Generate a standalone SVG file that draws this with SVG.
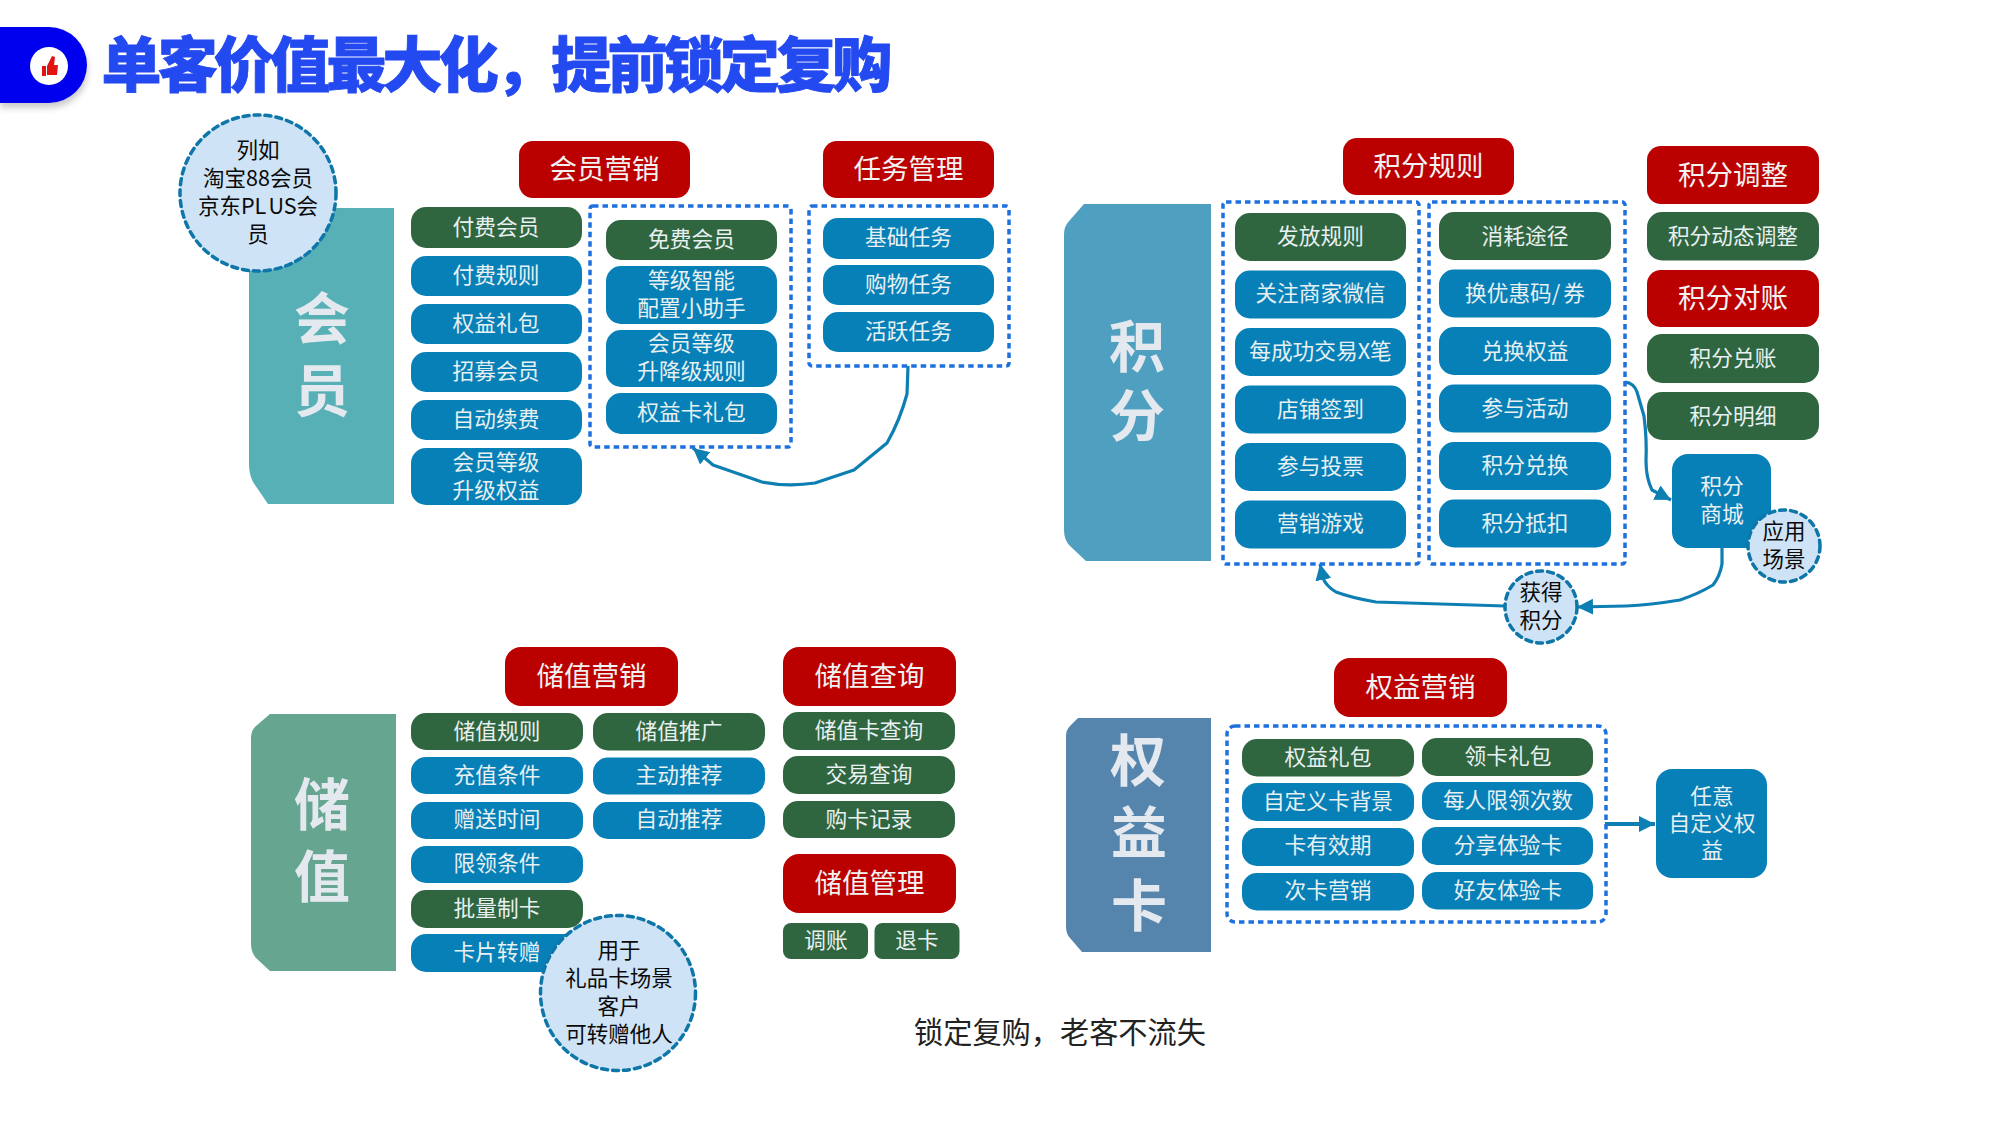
<svg xmlns="http://www.w3.org/2000/svg" width="2000" height="1125" viewBox="0 0 2000 1125">
<style>
text{font-family:"Noto Sans CJK SC","Noto Sans",sans-serif;text-anchor:middle}
.g{fill:#30663f}.b{fill:#0780b8}.r{fill:#bb0000}
.t{font-size:21.700px;fill:#e8f0f2}
.h{font-size:27.500px;fill:#f2f2f2}
.k{font-size:21.500px;fill:#0a0a0a}
.v{font-size:56px;font-weight:700;fill:#e3e9ee}
.c{fill:#cfe3f6;stroke:#0e76a8;stroke-width:3.500;stroke-dasharray:6 5;stroke-linecap:round}
.d{fill:none;stroke:#1c70e0;stroke-width:3.500;stroke-dasharray:5.500 4}
.a{fill:none;stroke:#0e7fb2;stroke-width:3.200;stroke-linejoin:round}
</style>
<defs>
<marker id="arr" markerUnits="userSpaceOnUse" markerWidth="20" markerHeight="20" refX="16" refY="8" orient="auto"><path d="M0 0L16 8L0 16z" fill="#0e7fb2"/></marker>
<filter id="sh" x="-20%" y="-20%" width="140%" height="150%"><feGaussianBlur stdDeviation="3"/></filter>
</defs>
<g id="title-tab">
<path d="M0 32H50a38 38 0 0 1 0 76H0z" fill="#000" opacity=".2" filter="url(#sh)"/>
<path d="M0 27H49a38 38 0 0 1 0 76H0z" fill="#0000ee"/>
<circle cx="49" cy="66" r="19" fill="#fff"/>
<path d="M42 66h4v10h-4zM47 66l5-10 3 1-1 8h4l-1 10H47z" fill="#e11414"/>
</g>
<text id="title" x="495" y="87" style="font-size:60px;font-weight:900;letter-spacing:-3.800px;fill:#2349f0;stroke:#2349f0;stroke-width:.8">单客价值最大化，提前锁定复购</text>
<g id="connectors">
<path class="a" marker-end="url(#arr)" d="M908 366L907 394Q900 420 887 443L854 470L815 483Q788 487 762 482L713 465L693 448"/>
<path class="a" marker-end="url(#arr)" d="M1625 382Q1634 383 1637 392L1644 416Q1647 440 1646 461Q1646 478 1652 490L1671 500"/>
<path class="a" marker-end="url(#arr)" d="M1722 548V564Q1720 576 1713 585Q1698 594 1680 600Q1650 605 1626 606L1577 607"/>
<path class="a" marker-end="url(#arr)" d="M1505 606L1376 602Q1352 598 1336 592Q1326 586 1323 578L1320 564"/>
<path class="a" style="stroke-width:4" marker-end="url(#arr)" d="M1605 824H1655"/>
</g>
<g id="n-huiyuan"><path d="M249 208H394V504H268L253 482Q249 474 249 464z" fill="#57b0b5"/><text class="v" x="322" y="339">会</text><text class="v" x="322" y="411">员</text></g>
<g id="n-liru"><circle class="c" cx="258" cy="193" r="78"/><text class="k" x="258" y="158">列如</text><text class="k" x="258" y="186">淘宝88会员</text><text class="k" x="258" y="214">京东PL<tspan dx="3">US</tspan>会</text><text class="k" x="258" y="242">员</text></g>
<g id="n-hyyx"><rect class="r" x="519" y="141" width="171" height="57" rx="14"/><text class="h" x="604.500" y="179">会员营销</text></g>
<g id="n-rwgl"><rect class="r" x="823" y="141" width="171" height="57" rx="14"/><text class="h" x="908.500" y="179">任务管理</text></g>
<g id="n-1"><rect class="g" x="411" y="207" width="171" height="41" rx="15"/><text class="t" x="496" y="235">付费会员</text></g>
<g id="n-2"><rect class="b" x="411" y="256" width="171" height="40" rx="15"/><text class="t" x="496" y="283">付费规则</text></g>
<g id="n-3"><rect class="b" x="411" y="304" width="171" height="40" rx="15"/><text class="t" x="496" y="331">权益礼包</text></g>
<g id="n-4"><rect class="b" x="411" y="352" width="171" height="40" rx="15"/><text class="t" x="496" y="379">招募会员</text></g>
<g id="n-5"><rect class="b" x="411" y="400" width="171" height="40" rx="15"/><text class="t" x="496" y="427">自动续费</text></g>
<g id="n-6"><rect class="b" x="411" y="448" width="171" height="57" rx="15"/><text class="t" x="496" y="470">会员等级</text><text class="t" x="496" y="498">升级权益</text></g>
<rect id="box-1" class="d" x="590" y="206" width="201" height="241" rx="3"/>
<g id="n-7"><rect class="g" x="606" y="220" width="171" height="40" rx="15"/><text class="t" x="691.500" y="247">免费会员</text></g>
<g id="n-8"><rect class="b" x="606" y="266" width="171" height="58" rx="15"/><text class="t" x="691.500" y="287.500">等级智能</text><text class="t" x="691.500" y="316">配置小助手</text></g>
<g id="n-9"><rect class="b" x="606" y="330" width="171" height="57" rx="15"/><text class="t" x="691.500" y="351">会员等级</text><text class="t" x="691.500" y="379">升降级规则</text></g>
<g id="n-10"><rect class="b" x="606" y="393" width="171" height="41" rx="15"/><text class="t" x="691.500" y="420">权益卡礼包</text></g>
<rect id="box-2" class="d" x="809" y="206" width="200" height="160" rx="3"/>
<g id="n-11"><rect class="b" x="823" y="218" width="171" height="41" rx="15"/><text class="t" x="908.500" y="245">基础任务</text></g>
<g id="n-12"><rect class="b" x="823" y="265" width="171" height="40" rx="15"/><text class="t" x="908.500" y="291.500">购物任务</text></g>
<g id="n-13"><rect class="b" x="823" y="312" width="171" height="40" rx="15"/><text class="t" x="908.500" y="338.500">活跃任务</text></g>

<g id="n-jifen"><path d="M1211 204V561H1086L1070 546Q1064 540 1064 530V234Q1064 226 1070 220L1084 204z" fill="#4f9fc1"/><text class="v" x="1137" y="367">积</text><text class="v" x="1137" y="436">分</text></g>
<g id="n-jfgz"><rect class="r" x="1343" y="138" width="171" height="57" rx="14"/><text class="h" x="1428.500" y="176">积分规则</text></g>
<rect id="box-3" class="d" x="1223" y="202" width="196" height="362" rx="3"/>
<rect id="box-4" class="d" x="1429" y="202" width="196" height="362" rx="3"/>
<g id="n-20"><rect class="g" x="1235" y="213" width="171" height="48" rx="15"/><text class="t" x="1320.500" y="244">发放规则</text></g>
<g id="n-21"><rect class="b" x="1235" y="270.500" width="171" height="48" rx="15"/><text class="t" x="1320.500" y="301">关注商家微信</text></g>
<g id="n-22"><rect class="b" x="1235" y="328" width="171" height="48" rx="15"/><text class="t" x="1320.500" y="359">每成功交易X笔</text></g>
<g id="n-23"><rect class="b" x="1235" y="385.500" width="171" height="48" rx="15"/><text class="t" x="1320.500" y="417">店铺签到</text></g>
<g id="n-24"><rect class="b" x="1235" y="443" width="171" height="48" rx="15"/><text class="t" x="1320.500" y="474">参与投票</text></g>
<g id="n-25"><rect class="b" x="1235" y="500.500" width="171" height="48" rx="15"/><text class="t" x="1320.500" y="531">营销游戏</text></g>
<g id="n-30"><rect class="g" x="1439" y="212" width="172" height="48" rx="15"/><text class="t" x="1525" y="244">消耗途径</text></g>
<g id="n-31"><rect class="b" x="1439" y="269.500" width="172" height="48" rx="15"/><text class="t" x="1525" y="301">换优惠码/<tspan dx="3">券</tspan></text></g>
<g id="n-32"><rect class="b" x="1439" y="327" width="172" height="48" rx="15"/><text class="t" x="1525" y="358.500">兑换权益</text></g>
<g id="n-33"><rect class="b" x="1439" y="384.500" width="172" height="48" rx="15"/><text class="t" x="1525" y="416">参与活动</text></g>
<g id="n-34"><rect class="b" x="1439" y="442" width="172" height="48" rx="15"/><text class="t" x="1525" y="473">积分兑换</text></g>
<g id="n-35"><rect class="b" x="1439" y="499.500" width="172" height="48" rx="15"/><text class="t" x="1525" y="531">积分抵扣</text></g>
<g id="n-40"><rect class="r" x="1647" y="146" width="172" height="58" rx="14"/><text class="h" x="1733" y="185">积分调整</text></g>
<g id="n-41"><rect class="g" x="1647" y="212" width="172" height="48.500" rx="15"/><text class="t" x="1733" y="244">积分动态调整</text></g>
<g id="n-42"><rect class="r" x="1647" y="270" width="172" height="57" rx="14"/><text class="h" x="1733" y="308">积分对账</text></g>
<g id="n-43"><rect class="g" x="1647" y="334" width="172" height="49" rx="15"/><text class="t" x="1733" y="366">积分兑账</text></g>
<g id="n-44"><rect class="g" x="1647" y="392" width="172" height="48" rx="15"/><text class="t" x="1733" y="424">积分明细</text></g>
<g id="n-mall"><rect class="b" x="1672" y="454" width="99" height="94" rx="16"/><text class="t" x="1722" y="493.500">积分</text><text class="t" x="1722" y="521.500">商城</text></g>
<g id="n-apply"><circle class="c" cx="1784" cy="546" r="36"/><text class="k" x="1784" y="539">应用</text><text class="k" x="1784" y="567">场景</text></g>
<g id="n-earn"><circle class="c" cx="1541" cy="607" r="36"/><text class="k" x="1541" y="599.500">获得</text><text class="k" x="1541" y="628">积分</text></g>

<g id="n-chuzhi"><path d="M251 738Q251 730 256 726L270 714H396V971H270L256 958Q251 952 251 944z" fill="#66a58f"/><text class="v" x="322" y="825">储</text><text class="v" x="322" y="897">值</text></g>
<g id="n-50"><rect class="r" x="505" y="647" width="173" height="59" rx="16"/><text class="h" x="591.500" y="686">储值营销</text></g>
<g id="n-51"><rect class="r" x="783" y="647" width="173" height="59" rx="16"/><text class="h" x="869.500" y="686">储值查询</text></g>
<g id="n-52"><rect class="r" x="783" y="854" width="173" height="59" rx="16"/><text class="h" x="869.500" y="893">储值管理</text></g>
<g id="n-53"><rect class="g" x="411" y="713" width="172" height="37" rx="15"/><text class="t" x="497" y="738.500">储值规则</text></g>
<g id="n-54"><rect class="b" x="411" y="757" width="172" height="37" rx="15"/><text class="t" x="497" y="783">充值条件</text></g>
<g id="n-55"><rect class="b" x="411" y="802" width="172" height="37" rx="15"/><text class="t" x="497" y="827">赠送时间</text></g>
<g id="n-56"><rect class="b" x="411" y="846" width="172" height="37" rx="15"/><text class="t" x="497" y="871">限领条件</text></g>
<g id="n-57"><rect class="g" x="411" y="890" width="172" height="38" rx="15"/><text class="t" x="497" y="916">批量制卡</text></g>
<g id="n-58"><rect class="b" x="411" y="934" width="172" height="38" rx="15"/><text class="t" x="497" y="960">卡片转赠</text></g>
<g id="n-59"><rect class="g" x="593" y="713" width="172" height="37.500" rx="15"/><text class="t" x="679" y="739">储值推广</text></g>
<g id="n-60"><rect class="b" x="593" y="757.500" width="172" height="37" rx="15"/><text class="t" x="679" y="783">主动推荐</text></g>
<g id="n-61"><rect class="b" x="593" y="802" width="172" height="37" rx="15"/><text class="t" x="679" y="827">自动推荐</text></g>
<g id="n-62"><rect class="g" x="783" y="712" width="172" height="38" rx="15"/><text class="t" x="869" y="738">储值卡查询</text></g>
<g id="n-63"><rect class="g" x="783" y="756" width="172" height="38" rx="15"/><text class="t" x="869" y="782">交易查询</text></g>
<g id="n-64"><rect class="g" x="783" y="801" width="172" height="37" rx="15"/><text class="t" x="869" y="827">购卡记录</text></g>
<g id="n-65"><rect class="g" x="783" y="923" width="85" height="36" rx="8"/><text class="t" x="826" y="948">调账</text></g>
<g id="n-66"><rect class="g" x="874.500" y="923" width="85" height="36" rx="8"/><text class="t" x="917" y="948">退卡</text></g>
<g id="n-gift"><circle class="c" cx="618" cy="993" r="77.500"/><text class="k" x="619" y="957.500">用于</text><text class="k" x="619" y="986">礼品卡场景</text><text class="k" x="619" y="1014">客户</text><text class="k" x="619" y="1042">可转赠他人</text></g>

<g id="n-quanyi"><path d="M1066 736Q1066 730 1070 726L1078 718H1211V952H1082L1070 938Q1066 934 1066 926z" fill="#5585ad"/><text class="v" x="1138" y="781">权</text><text class="v" x="1139" y="853">益</text><text class="v" x="1139" y="926">卡</text></g>
<g id="n-70"><rect class="r" x="1334" y="658" width="173" height="59" rx="16"/><text class="h" x="1420.500" y="696.500">权益营销</text></g>
<rect id="box-5" class="d" x="1233" y="730" width="379" height="196" rx="8" style="transform:translate(-6px,-4px)"/>
<g id="n-71"><rect class="g" x="1242" y="739" width="172" height="37.500" rx="15"/><text class="t" x="1328" y="765">权益礼包</text></g>
<g id="n-72"><rect class="b" x="1242" y="783" width="172" height="38" rx="15"/><text class="t" x="1328" y="809">自定义卡背景</text></g>
<g id="n-73"><rect class="b" x="1242" y="828" width="172" height="38" rx="15"/><text class="t" x="1328" y="853">卡有效期</text></g>
<g id="n-74"><rect class="b" x="1242" y="873" width="172" height="37.500" rx="15"/><text class="t" x="1328" y="898">次卡营销</text></g>
<g id="n-75"><rect class="g" x="1422" y="738" width="171" height="38" rx="15"/><text class="t" x="1508" y="764">领卡礼包</text></g>
<g id="n-76"><rect class="b" x="1422" y="782" width="171" height="38" rx="15"/><text class="t" x="1508" y="808">每人限领次数</text></g>
<g id="n-77"><rect class="b" x="1422" y="827" width="171" height="38" rx="15"/><text class="t" x="1508" y="853">分享体验卡</text></g>
<g id="n-78"><rect class="b" x="1422" y="872" width="171" height="37.500" rx="15"/><text class="t" x="1508" y="897.500">好友体验卡</text></g>
<g id="n-79"><rect class="b" x="1656" y="769" width="111" height="109" rx="16"/><text class="t" x="1712" y="804">任意</text><text class="t" x="1712" y="831">自定义权</text><text class="t" x="1712" y="858">益</text></g>
<text id="caption" x="1060" y="1043" style="font-size:29.200px;fill:#222">锁定复购，老客不流失</text>
</svg>
